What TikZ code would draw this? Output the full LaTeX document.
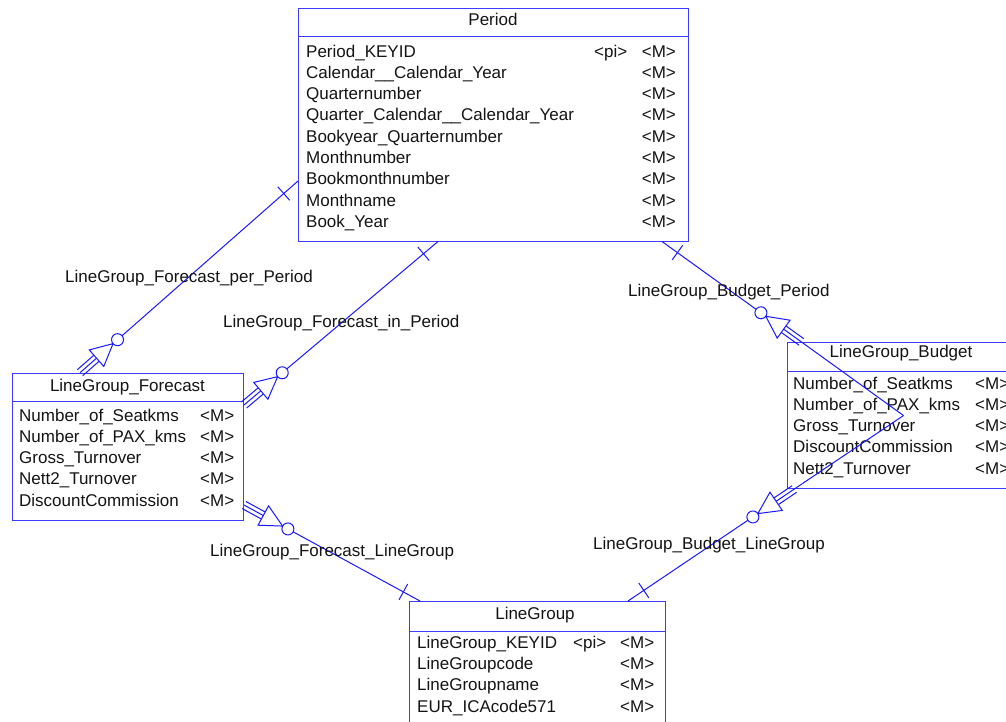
\documentclass[tikz,border=0pt]{standalone}
\usepackage{fontspec}
\setmainfont{Liberation Sans}
\usetikzlibrary{calc}
\definecolor{bord}{RGB}{60,60,255}
\definecolor{lin}{RGB}{25,25,255}
\definecolor{ink}{RGB}{20,20,20}
\tikzset{
  box/.style={draw=bord, line width=1pt, fill=white, anchor=north west, inner sep=0pt},
  hdr/.style={draw=bord, line width=1pt},
  conn/.style={draw=lin, line width=1pt},
  txt/.style={anchor=base west, inner sep=0pt, text=ink, font=\fontsize{17}{20}\selectfont},
  ttl/.style={anchor=base, inner sep=0pt, text=ink, font=\fontsize{17}{20}\selectfont},
}
\newcommand\manyend[2]{%
  \coordinate (mb) at ($(#1)!22pt!(#2)$);
  \draw[conn] ($(#1)!4pt!90:(#2)$) -- ($(mb)!4pt!90:(#2)$);
  \draw[conn] ($(#1)!4pt!-90:(#2)$) -- ($(mb)!4pt!-90:(#2)$);
  \draw[conn, fill=white] ($(mb)!11pt!90:(#2)$) -- ($(#1)!44pt!(#2)$) -- ($(mb)!11pt!-90:(#2)$) -- cycle;
  \draw[conn, fill=white] ($(#1)!50pt!(#2)$) circle (6pt);
}
\newcommand\oneend[2]{%
  \coordinate (mt) at ($(#1)!19pt!(#2)$);
  \draw[conn] ($(mt)!9pt!90:(#2)$) -- ($(mt)!9pt!-90:(#2)$);
}
\begin{document}
\begin{tikzpicture}[x=1pt, y=-1pt]
\useasboundingbox (0,0) rectangle (1006,721);
\clip (0,0) rectangle (1006,721);
\fill[white] (0,0) rectangle (1006,721);

% ---------- boxes ----------
\node[box, minimum width=390pt, minimum height=232.5pt] (period) at (298,8) {};
\draw[hdr] ([yshift=-28.7pt]period.north west) -- ([yshift=-28.7pt]period.north east);
\node[ttl] (periodT) at (493,25) {Period};
\foreach \t [count=\i] in {Period\_KEYID, Calendar\_\_Calendar\_Year, Quarternumber,
  Quarter\_Calendar\_\_Calendar\_Year, Bookyear\_Quarternumber, Monthnumber,
  Bookmonthnumber, Monthname, Book\_Year}{
  \node[txt] (pa\i) at (306,{57+21.3*(\i-1)}) {\t};
  \node[txt] (pm\i) at (641.7,{57+21.3*(\i-1)}) {<M>};
}
\node[txt] (ppi) at (594,57) {<pi>};

\node[box, minimum width=231pt, minimum height=147.5pt] (forecast) at (12,372.7) {};
\draw[hdr] ([yshift=-29pt]forecast.north west) -- ([yshift=-29pt]forecast.north east);
\node[ttl] (forecastT) at (127.5,391) {LineGroup\_Forecast};
\foreach \t [count=\i] in {Number\_of\_Seatkms, Number\_of\_PAX\_kms, Gross\_Turnover,
  Nett2\_Turnover, DiscountCommission}{
  \node[txt] (fa\i) at (19,{421+21.3*(\i-1)}) {\t};
  \node[txt] (fm\i) at (200,{421+21.3*(\i-1)}) {<M>};
}

\node[box, minimum width=232pt, minimum height=146pt] (budget) at (787,342) {};
\draw[hdr] ([yshift=-29pt]budget.north west) -- ([yshift=-29pt]budget.north east);
\node[ttl] (budgetT) at (901,357.3) {LineGroup\_Budget};
\foreach \t [count=\i] in {Number\_of\_Seatkms, Number\_of\_PAX\_kms, Gross\_Turnover,
  DiscountCommission, Nett2\_Turnover}{
  \node[txt] (ba\i) at (793,{389+21.3*(\i-1)}) {\t};
  \node[txt] (bm\i) at (975,{389+21.3*(\i-1)}) {<M>};
}

\node[box, minimum width=256pt, minimum height=140pt] (linegroup) at (409,601) {};
\draw[hdr] ([yshift=-30pt]linegroup.north west) -- ([yshift=-30pt]linegroup.north east);
\node[ttl] (linegroupT) at (535,619.3) {LineGroup};
\foreach \t [count=\i] in {LineGroup\_KEYID, LineGroupcode, LineGroupname, EUR\_ICAcode571}{
  \node[txt] (la\i) at (417,{648.3+21.3*(\i-1)}) {\t};
  \node[txt] (lm\i) at (620,{648.3+21.3*(\i-1)}) {<M>};
}
\node[txt] (lpi) at (573,648.3) {<pi>};

% ---------- connector end points ----------
\coordinate (E1) at ([xshift=68pt]forecast.north west);
\coordinate (P1) at ([yshift=-173pt]period.north west);
\coordinate (E2) at ([yshift=-32.3pt]forecast.north east);
\coordinate (P2) at ([xshift=140pt]period.south west);
\coordinate (P3) at ([xshift=364pt]period.south west);
\coordinate (P4) at ([xshift=219pt]linegroup.north west);
\coordinate (E5) at ([yshift=-132.3pt]forecast.north east);
\coordinate (P5) at ([xshift=11pt]linegroup.north west);
\coordinate (E3) at (intersection of budget.north west--budget.north east and budget.center--P3);
\coordinate (E4) at (intersection of budget.south west--budget.south east and budget.center--P4);

% ---------- main lines ----------
\draw[conn] (E1) -- (P1);
\draw[conn] (E2) -- (P2);
\draw[conn] (budget.center) -- (P3);
\draw[conn] (budget.center) -- (P4);
\draw[conn] (E5) -- (P5);

% ---------- end symbols ----------
\manyend{E1}{P1} \oneend{P1}{E1}
\manyend{E2}{P2} \oneend{P2}{E2}
\manyend{E3}{P3} \oneend{P3}{E3}
\manyend{E4}{P4} \oneend{P4}{E4}
\manyend{E5}{P5} \oneend{P5}{E5}

% ---------- labels ----------
\node[txt] (l1) at (65,282) {LineGroup\_Forecast\_per\_Period};
\node[txt] (l2) at (223,327) {LineGroup\_Forecast\_in\_Period};
\node[txt] (l3) at (628,296) {LineGroup\_Budget\_Period};
\node[txt] (l4) at (593,549) {LineGroup\_Budget\_LineGroup};
\node[txt] (l5) at (210,556.7) {LineGroup\_Forecast\_LineGroup};
\end{tikzpicture}
\end{document}
